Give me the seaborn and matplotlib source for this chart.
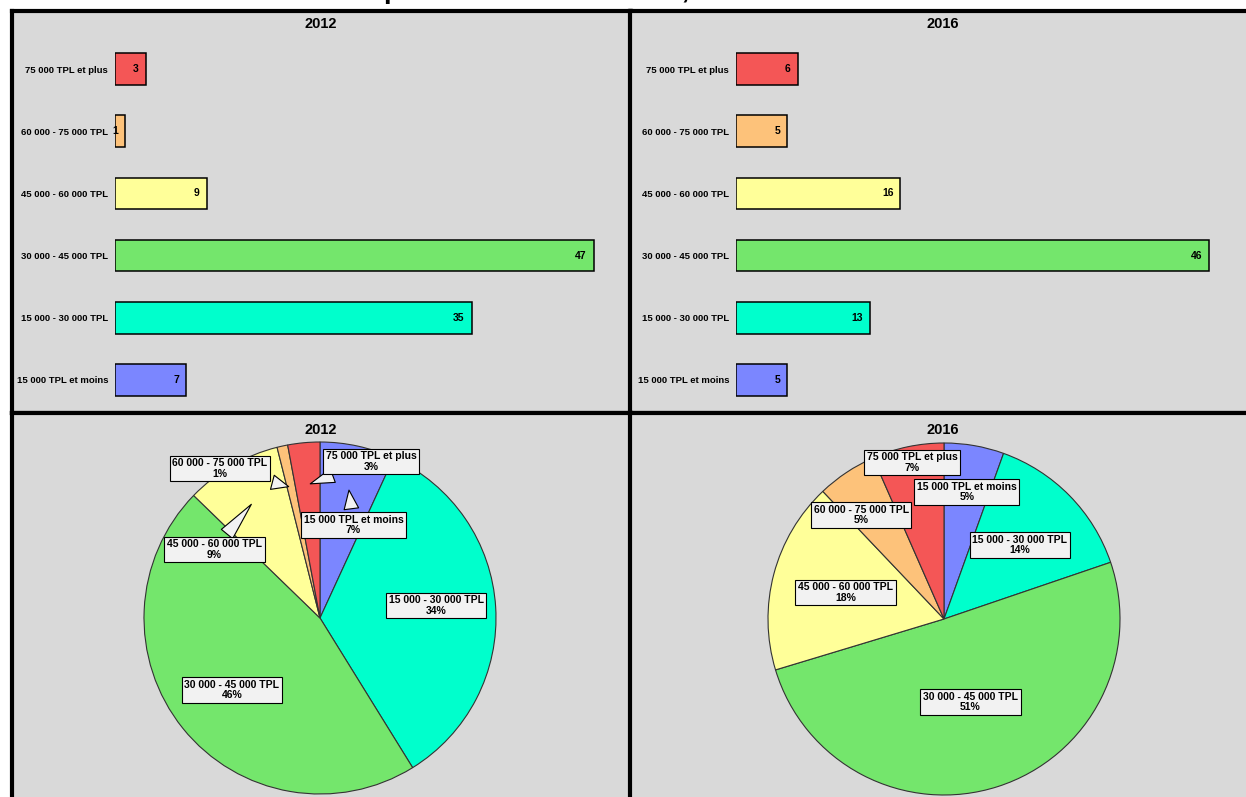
import matplotlib
matplotlib.use("Agg")
import numpy as np
import pandas as pd
import seaborn as sns
import matplotlib.pyplot as plt

# data
categories = ["15 000 TPL et moins", "15 000 - 30 000 TPL", "30 000 - 45 000 TPL",
              "45 000 - 60 000 TPL", "60 000 - 75 000 TPL", "75 000 TPL et plus"]
values_2012 = [7, 35, 47, 9, 1, 3]
values_2016 = [5, 13, 46, 16, 5, 6]
years = ["2012", "2016"]
colors = ["#7b86ff", "#00ffcc", "#74e66c", "#ffff99", "#fdc27a", "#f45656"]
title = "ports du Saint-Laurent, 2012 et 2016"

# layout of the pie label boxes (pie radius units) and which get a callout
label_pos_2012 = {
    "15 000 TPL et moins": (0.19, 0.53), "15 000 - 30 000 TPL": (0.66, 0.07),
    "30 000 - 45 000 TPL": (-0.50, -0.41), "45 000 - 60 000 TPL": (-0.60, 0.39),
    "60 000 - 75 000 TPL": (-0.57, 0.85), "75 000 TPL et plus": (0.29, 0.89),
}
callout_2012 = ["15 000 TPL et moins", "45 000 - 60 000 TPL",
                "60 000 - 75 000 TPL", "75 000 TPL et plus"]
label_pos_2016 = {
    "15 000 TPL et moins": (0.13, 0.72), "15 000 - 30 000 TPL": (0.43, 0.42),
    "30 000 - 45 000 TPL": (0.15, -0.47), "45 000 - 60 000 TPL": (-0.56, 0.15),
    "60 000 - 75 000 TPL": (-0.47, 0.59), "75 000 TPL et plus": (-0.18, 0.89),
}

sns.set_theme(style="white")
plt.rcParams["font.family"] = ["Liberation Sans", "DejaVu Sans"]
plt.rcParams["text.color"] = "black"
plt.rcParams["ytick.color"] = "black"
plt.rcParams["xtick.color"] = "black"

W, H = 1246, 797
fig = plt.figure(figsize=(W / 100, H / 100), dpi=100, facecolor="white")


def rect(x0, y0, x1, y1):
    return [x0 / W, 1 - y1 / H, (x1 - x0) / W, (y1 - y0) / H]


# grey panels with thick black borders
for box in [(12, 11, 631, 413), (630, 11, 1262, 413), (12, 413, 631, 812), (630, 413, 1262, 812)]:
    p = fig.add_axes(rect(*box))
    p.set_facecolor("#d9d9d9")
    p.set_xticks([])
    p.set_yticks([])
    for s in p.spines.values():
        s.set_linewidth(3)
        s.set_color("black")

# the title sits mostly above the top edge, as in the source
fig.text(0.5, 1 + 2 / H, title, ha="center", va="baseline", fontsize=20, weight="bold")

# panel titles
for cx, cy, yr in [(321, 24, years[0]), (943, 24, years[1]), (321, 430, years[0]), (943, 430, years[1])]:
    fig.text(cx / W, 1 - cy / H, yr, ha="center", va="center", fontsize=10.5, weight="bold")

# bar charts
bar_boxes = [((115, 38, 630, 411), 515 / 10.19), ((736, 38, 1246, 411), 510 / 10.28)]
for (box, xmax), vals in zip(bar_boxes, [values_2012, values_2016]):
    ax = fig.add_axes(rect(*box))
    df = pd.DataFrame({"cat": categories, "val": vals})
    order = categories[::-1]
    sns.barplot(data=df, x="val", y="cat", hue="cat", hue_order=categories, order=order,
                palette=colors, saturation=1, legend=False, orient="h", width=0.51,
                edgecolor="black", linewidth=1.1, ax=ax)
    ax.set_facecolor("none")
    ax.set_xlim(0, xmax)
    ax.set_ylim(5.5, -0.5)
    ax.set_xlabel("")
    ax.set_ylabel("")
    ax.set_xticks([])
    for s in ax.spines.values():
        s.set_visible(False)
    ax.tick_params(axis="y", length=0, pad=5, labelcolor="black")
    for lab in ax.get_yticklabels():
        lab.set_fontsize(6.8)
        lab.set_fontweight("bold")
    for i, c in enumerate(order):
        v = vals[categories.index(c)]
        ax.annotate(str(v), xy=(v, i), xytext=(-5, 0), textcoords="offset points",
                    ha="right", va="center", fontsize=7.5, weight="bold", color="black")

# pie charts
pie_boxes = [(144, 442, 496, 794), (768, 443, 1120, 795)]
for box, vals, pos, calls in zip(pie_boxes, [values_2012, values_2016],
                                 [label_pos_2012, label_pos_2016], [callout_2012, []]):
    ax = fig.add_axes(rect(*box))
    ax.pie(vals, colors=colors, startangle=90, counterclock=False, radius=1,
           wedgeprops=dict(edgecolor="#333333", linewidth=0.8))
    ax.set_xlim(-1, 1)
    ax.set_ylim(-1, 1)
    ax.set_aspect("equal")
    ax.axis("off")
    total = sum(vals)
    cum = 0
    for c, v in zip(categories, vals):
        pct = int(round(v / total * 100))
        txt = f"{c}\n{pct}%"
        mid = np.deg2rad(90 - 360 * (cum + v / 2) / total)
        cum += v
        bbox = dict(boxstyle="square,pad=0.25", fc="#f2f2f2", ec="black", lw=0.8)
        if c in calls:
            tip = (0.76 * np.cos(mid), 0.76 * np.sin(mid))
            ax.annotate(txt, xy=tip, xytext=pos[c], ha="center", va="center",
                        fontsize=7.5, weight="bold", linespacing=1.05, bbox=bbox,
                        annotation_clip=False, color="black",
                        arrowprops=dict(arrowstyle="wedge,tail_width=1.4,shrink_factor=0.5",
                                        fc="#f2f2f2", ec="black", lw=0.8))
        else:
            ax.text(*pos[c], txt, ha="center", va="center", fontsize=7.5, weight="bold",
                    linespacing=1.05, bbox=bbox, clip_on=False, color="black")

fig.savefig("out.png", dpi=100, facecolor="white")
